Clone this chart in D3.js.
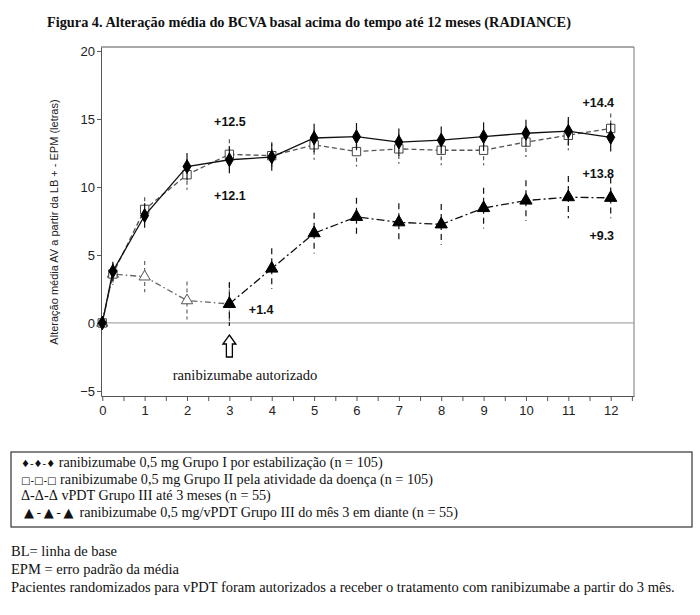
<!DOCTYPE html>
<html>
<head>
<meta charset="utf-8">
<script src="https://cdn.jsdelivr.net/npm/d3@7"></script>
<style>
  body { margin: 0; background: #fff; }
  svg { display: block; }
  .tick text { font-family: "Liberation Sans", Arial, sans-serif; font-size: 13px; fill: #222; }
  .axis path, .axis line { stroke: #555; }
  .note { font-family: "Liberation Sans", Arial, sans-serif; font-weight: bold; font-size: 12.5px; fill: #111; }
  .serif { font-family: "Liberation Serif", "Times New Roman", serif; fill: #111; }
</style>
</head>
<body>
<div id="chart"></div>
<script>
// months on the x axis
var months = [0, 0.25, 1, 2, 3, 4, 5, 6, 7, 8, 9, 10, 11, 12];
// group I - ranibizumab by stabilisation
var grp1 = [0, 3.8, 7.9, 11.5, 12.0, 12.2, 13.6, 13.7, 13.3, 13.45, 13.7, 13.95, 14.1, 13.65];
var grp1Se = [0, 0.7, 0.9, 1.0, 1.0, 1.0, 1.05, 1.0, 1.0, 1.0, 1.05, 1.0, 1.05, 1.05];
// group II - ranibizumab by disease activity
var grp2 = [0, 3.6, 8.35, 10.9, 12.4, 12.3, 13.1, 12.6, 12.8, 12.7, 12.7, 13.3, 13.8, 14.3];
var grp2Se = [0, 0.7, 0.9, 1.1, 1.1, 1.0, 1.1, 1.1, 1.1, 1.1, 1.1, 1.1, 1.1, 1.1];
// group III vPDT up to month 3
var months3 = [0, 0.25, 1, 2, 3];
var grp3 = [0, 3.6, 3.4, 1.65, 1.4];
var grp3Se = [0, 0.8, 1.15, 1.4, 1.6];
// group III ranibizumab from month 3 on
var months4 = [3, 4, 5, 6, 7, 8, 9, 10, 11, 12];
var grp4 = [1.4, 4.0, 6.6, 7.8, 7.4, 7.25, 8.45, 9.0, 9.25, 9.2];
var grp4Se = [1.6, 1.5, 1.5, 1.4, 1.4, 1.5, 1.5, 1.5, 1.55, 1.5];

var yTicks = [-5, 0, 5, 10, 15, 20];
var notes = [
  {t: "+12.5", m: 2.64, v: 14.8, a: "start"},
  {t: "+12.1", m: 2.64, v: 9.35, a: "start"},
  {t: "+1.4", m: 3.46, v: 0.96, a: "start"},
  {t: "+14.4", m: 12.08, v: 16.2, a: "end"},
  {t: "+13.8", m: 12.08, v: 10.96, a: "end"},
  {t: "+9.3", m: 12.08, v: 6.42, a: "end"}
];
var legendLines = [
  ["\u2666-\u2666-\u2666", " ranibizumabe 0,5 mg Grupo I por estabilização (n = 105)"],
  ["\u25a1-\u25a1-\u25a1", " ranibizumabe 0,5 mg Grupo II pela atividade da doença (n = 105)"],
  ["\u0394-\u0394-\u0394", " vPDT Grupo III até 3 meses (n = 55)"],
  ["\u25b2-\u25b2-\u25b2", " ranibizumabe 0,5 mg/vPDT Grupo III do mês 3 em diante (n = 55)"]
];
var footLines = [
  "BL= linha de base",
  "EPM = erro padrão da média",
  "Pacientes randomizados para vPDT foram autorizados a receber o tratamento com ranibizumabe a partir do 3 mês."
];

var W = 700, H = 615;
var svg = d3.select("#chart").append("svg").attr("width", W).attr("height", H);

var x = d3.scaleLinear().domain([-0.03, 12.55]).range([101, 634]);
var y = d3.scaleLinear().domain([-5.37, 20.29]).range([396, 47]);

// title
svg.append("text").attr("class", "serif")
  .attr("x", 47).attr("y", 27)
  .style("font-weight", "bold").style("font-size", "14.3px")
  .text("Figura 4. Alteração média do BCVA basal acima do tempo até 12 meses (RADIANCE)");

// frame
svg.append("line").attr("x1", x.range()[0]).attr("x2", x.range()[1]).attr("y1", 47).attr("y2", 47).attr("stroke", "#555");
svg.append("line").attr("x1", 634).attr("x2", 634).attr("y1", 47).attr("y2", 396).attr("stroke", "#777");

// zero line
svg.append("line")
  .attr("x1", x.range()[0]).attr("x2", x.range()[1])
  .attr("y1", y(0)).attr("y2", y(0))
  .attr("stroke", "#aaa").attr("stroke-width", 1.2);

// axes
svg.append("g").attr("class", "axis")
  .attr("transform", "translate(101,0)")
  .call(d3.axisLeft(y).tickValues(yTicks).tickSize(4).tickPadding(2).tickSizeOuter(0));

svg.append("g").attr("class", "axis")
  .attr("transform", "translate(0,396)")
  .call(d3.axisBottom(x).tickValues(d3.range(0, 12.51, 0.5)).tickSize(5).tickPadding(5).tickSizeOuter(0)
    .tickFormat(function(d){ return d % 1 === 0 ? d : ""; }));

svg.append("text")
  .attr("transform", "translate(58,222) rotate(-90)")
  .attr("text-anchor", "middle")
  .style("font-family", "Liberation Sans, Arial, sans-serif")
  .style("font-size", "11px").style("fill", "#222")
  .text("Alteração média AV a partir da LB + - EPM (letras)");

// error bars and lines per series
function series(ms, vals, se, opt) {
  var pts = ms.map(function(m, i){ return {m: m, v: vals[i], s: se[i]}; });
  var g = svg.append("g");
  g.selectAll("line.err").data(pts).enter().append("line")
    .attr("x1", function(d){ return x(d.m); }).attr("x2", function(d){ return x(d.m); })
    .attr("y1", function(d){ return y(d.v + d.s); }).attr("y2", function(d){ return y(d.v - d.s); })
    .attr("stroke", opt.errColor || opt.color).attr("stroke-width", 1.2)
    .attr("stroke-dasharray", opt.errDash || null);
  g.append("path").datum(pts)
    .attr("d", d3.line().x(function(d){ return x(d.m); }).y(function(d){ return y(d.v); }))
    .attr("fill", "none").attr("stroke", opt.color).attr("stroke-width", 1.3)
    .attr("stroke-dasharray", opt.dash || null);
  g.selectAll("path.mk").data(pts).enter().append("path")
    .attr("transform", function(d){ return "translate(" + x(d.m) + "," + y(d.v) + ")"; })
    .attr("d", d3.symbol().type(opt.sym).size(opt.size))
    .attr("fill", opt.fill).attr("stroke", opt.stroke).attr("stroke-width", 1);
}

series(months3, grp3, grp3Se, {color: "#666", dash: "6,3,1.5,3", errDash: "4,3", sym: d3.symbolTriangle, size: 55, fill: "#fff", stroke: "#555"});
series(months, grp2, grp2Se, {color: "#555", dash: "5,3", errDash: "4,3", sym: d3.symbolSquare, size: 70, fill: "#fff", stroke: "#444"});
series(months, grp1, grp1Se, {color: "#111", sym: d3.symbolDiamond, size: 55, fill: "#000", stroke: "#000"});
series(months4, grp4, grp4Se, {color: "#111", dash: "8,3,2,3", errDash: "6,4", sym: d3.symbolTriangle, size: 65, fill: "#000", stroke: "#000"});

// annotations
svg.selectAll("text.note").data(notes).enter().append("text")
  .attr("class", "note")
  .attr("x", function(d){ return x(d.m); })
  .attr("y", function(d){ return y(d.v); })
  .attr("dy", "0.35em")
  .attr("text-anchor", function(d){ return d.a; })
  .text(function(d){ return d.t; });

// arrow under month 3
var ax = x(3), ay = 335;
svg.append("path")
  .attr("d", "M" + ax + "," + ay + " L" + (ax + 6.5) + "," + (ay + 9) + " L" + (ax + 3) + "," + (ay + 9) +
    " L" + (ax + 3) + "," + (ay + 22) + " L" + (ax - 3) + "," + (ay + 22) + " L" + (ax - 3) + "," + (ay + 9) +
    " L" + (ax - 6.5) + "," + (ay + 9) + "Z")
  .attr("fill", "#fff").attr("stroke", "#000").attr("stroke-width", 1.3);

svg.append("text").attr("class", "serif")
  .attr("x", x(3.37)).attr("y", y(-3.82)).attr("dy", "0.35em")
  .attr("text-anchor", "middle").style("font-size", "14.6px")
  .text("ranibizumabe autorizado");

// legend box
svg.append("rect").attr("x", 11).attr("y", 452).attr("width", 681).attr("height", 75)
  .attr("fill", "none").attr("stroke", "#333").attr("stroke-width", 1.2);

var symFont = ["DejaVu Sans, sans-serif", "DejaVu Sans, sans-serif", "Liberation Serif, serif", "DejaVu Sans, sans-serif"];
var symSize = ["10px", "10px", "14.2px", "13px"];
var symSpace = ["0px", "0px", "0px", "2.5px"];
var lg = svg.selectAll("text.leg").data(legendLines).enter().append("text")
  .attr("class", "serif")
  .attr("x", function(d, i){ return i === 3 ? 24 : 21; })
  .attr("y", function(d, i){ return 467 + i * 16.5; })
  .style("font-size", "14.2px");
lg.append("tspan")
  .style("font-family", function(d, i){ return symFont[i]; })
  .style("font-size", function(d, i){ return symSize[i]; })
  .style("letter-spacing", function(d, i){ return symSpace[i]; })
  .text(function(d){ return d[0]; });
lg.append("tspan").text(function(d){ return d[1]; });

svg.selectAll("text.foot").data(footLines).enter().append("text")
  .attr("class", "serif")
  .attr("x", 11).attr("y", function(d, i){ return 556 + i * 18; })
  .style("font-size", "14.5px")
  .text(function(d){ return d; });
</script>
</body>
</html>
